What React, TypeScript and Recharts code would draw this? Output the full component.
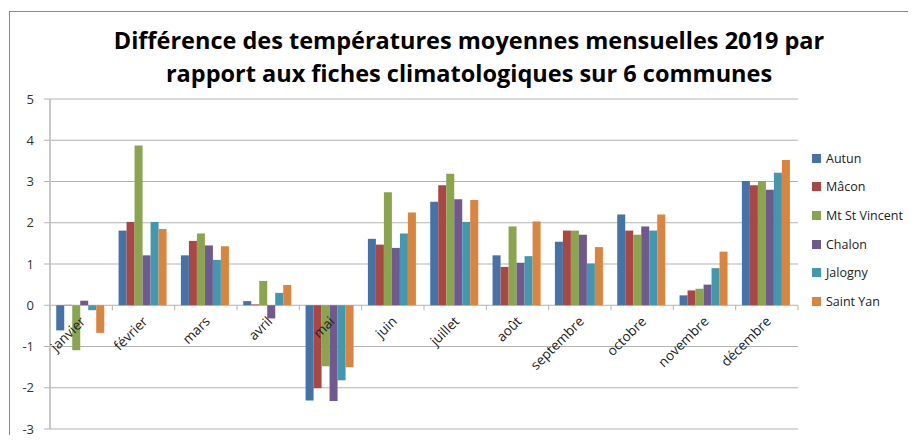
import React from 'react';
import { BarChart, Bar, XAxis, YAxis, CartesianGrid } from 'recharts';

const MOIS = ['janvier', 'février', 'mars', 'avril', 'mai', 'juin', 'juillet', 'août', 'septembre', 'octobre', 'novembre', 'décembre'];
const AUTUN = [-0.61, 1.81, 1.21, 0.1, -2.31, 1.61, 2.51, 1.21, 1.54, 2.2, 0.24, 3.01];
const MACON = [0.01, 2.02, 1.56, 0.02, -2.01, 1.47, 2.91, 0.93, 1.81, 1.81, 0.36, 2.91];
const MT_ST_VINCENT = [-1.09, 3.87, 1.74, 0.59, -1.48, 2.74, 3.19, 1.91, 1.81, 1.71, 0.4, 3.01];
const CHALON = [0.11, 1.21, 1.45, -0.32, -2.32, 1.39, 2.57, 1.03, 1.71, 1.91, 0.5, 2.8];
const JALOGNY = [-0.12, 2.02, 1.1, 0.3, -1.82, 1.74, 2.02, 1.19, 1.01, 1.81, 0.9, 3.21];
const SAINT_YAN = [-0.67, 1.85, 1.43, 0.49, -1.5, 2.25, 2.55, 2.03, 1.41, 2.2, 1.3, 3.52];
const Y_TICKS = [-3, -2, -1, 0, 1, 2, 3, 4, 5];

const SERIES = [
    { key: 'autun', name: 'Autun', values: AUTUN, color: '#4572A7' },
    { key: 'macon', name: 'Mâcon', values: MACON, color: '#AA4643' },
    { key: 'mtstvincent', name: 'Mt St Vincent', values: MT_ST_VINCENT, color: '#89A54E' },
    { key: 'chalon', name: 'Chalon', values: CHALON, color: '#71588F' },
    { key: 'jalogny', name: 'Jalogny', values: JALOGNY, color: '#4198AF' },
    { key: 'saintyan', name: 'Saint Yan', values: SAINT_YAN, color: '#DB843D' },
];

const DATA = MOIS.map((mois, i) => {
    const row: Record<string, string | number> = { mois };
    SERIES.forEach((s) => { row[s.key] = s.values[i]; });
    return row;
});

const W = 900;
const H = 435;
const MARGIN = { top: 91, right: 110, bottom: 13, left: 6 };
const X_AXIS_H = 1;
const PLOT_H = H - MARGIN.top - MARGIN.bottom - X_AXIS_H;
const PLOT_W = W - MARGIN.left - 36 - MARGIN.right;
const BAND = PLOT_W / MOIS.length;
const FONT = '"Open Sans", "Noto Sans", sans-serif';

// labels sit on the zero line, not at the bottom of the plot
function MonthTick(props: any) {
    const { x, payload, index } = props;
    const zeroY = MARGIN.top + PLOT_H * (5 / 8);
    const lx = x + 5;
    const ly = zeroY + 17;
    return (
        <g>
            <line x1={x - BAND / 2} x2={x - BAND / 2} y1={zeroY} y2={zeroY + 5} stroke="#b3b3b3" />
            {index === MOIS.length - 1 && (
                <line x1={x + BAND / 2} x2={x + BAND / 2} y1={zeroY} y2={zeroY + 5} stroke="#b3b3b3" />
            )}
            <text
                x={lx}
                y={ly}
                textAnchor="end"
                transform={`rotate(-45 ${lx} ${ly})`}
                fontSize={13.5}
                fontFamily={FONT}
                fill="#222"
            >
                {payload.value}
            </text>
        </g>
    );
}

export default function App() {
    return (
        <div style={{ position: 'relative', width: W, height: H, marginBottom: -8, overflow: 'hidden', background: '#fff' }}>
            <div style={{ position: 'absolute', left: 1, top: 3, width: 2000, height: 2000, border: '1px solid #8c8c8c' }}></div>
            <svg width={W} height={90} style={{ position: 'absolute', left: 0, top: 0 }}>
                <text x={461} y={41} textAnchor="middle" fontFamily={FONT} fontWeight="bold" fontSize={23.5} fill="#000">
                    Différence des températures moyennes mensuelles 2019 par
                </text>
                <text x={461} y={74} textAnchor="middle" fontFamily={FONT} fontWeight="bold" fontSize={23.5} fill="#000">
                    rapport aux fiches climatologiques sur 6 communes
                </text>
            </svg>
            <div style={{ position: 'absolute', left: 0, top: 0 }}>
                <BarChart width={W} height={H} data={DATA} margin={MARGIN} barCategoryGap="10%" barGap={0}>
                    <CartesianGrid vertical={false} stroke="#b3b3b3" />
                    <XAxis
                        dataKey="mois"
                        height={X_AXIS_H}
                        axisLine={false}
                        tickLine={false}
                        interval={0}
                        tick={<MonthTick />}
                    />
                    <YAxis
                        width={36}
                        domain={[-3, 5]}
                        ticks={Y_TICKS}
                        interval={0}
                        axisLine={{ stroke: '#c8c8c8', strokeWidth: 2 }}
                        tickLine={{ stroke: '#b3b3b3' }}
                        tickSize={6}
                        tickMargin={10}
                        tick={{ fontSize: 13, fill: '#333', fontFamily: FONT }}
                    />
                    {SERIES.map((s) => (
                        <Bar key={s.key} dataKey={s.key} name={s.name} fill={s.color} isAnimationActive={false} />
                    ))}
                </BarChart>
            </div>
            <div style={{ position: 'absolute', left: 804, top: 136, fontFamily: FONT, fontSize: 12.5, color: '#222' }}>
                {SERIES.map((s) => (
                    <div key={s.key} style={{ display: 'flex', alignItems: 'center', height: 28.6 }}>
                        <span style={{ width: 9, height: 9, background: s.color, marginRight: 5, display: 'inline-block' }}></span>
                        {s.name}
                    </div>
                ))}
            </div>
        </div>
    );
}
